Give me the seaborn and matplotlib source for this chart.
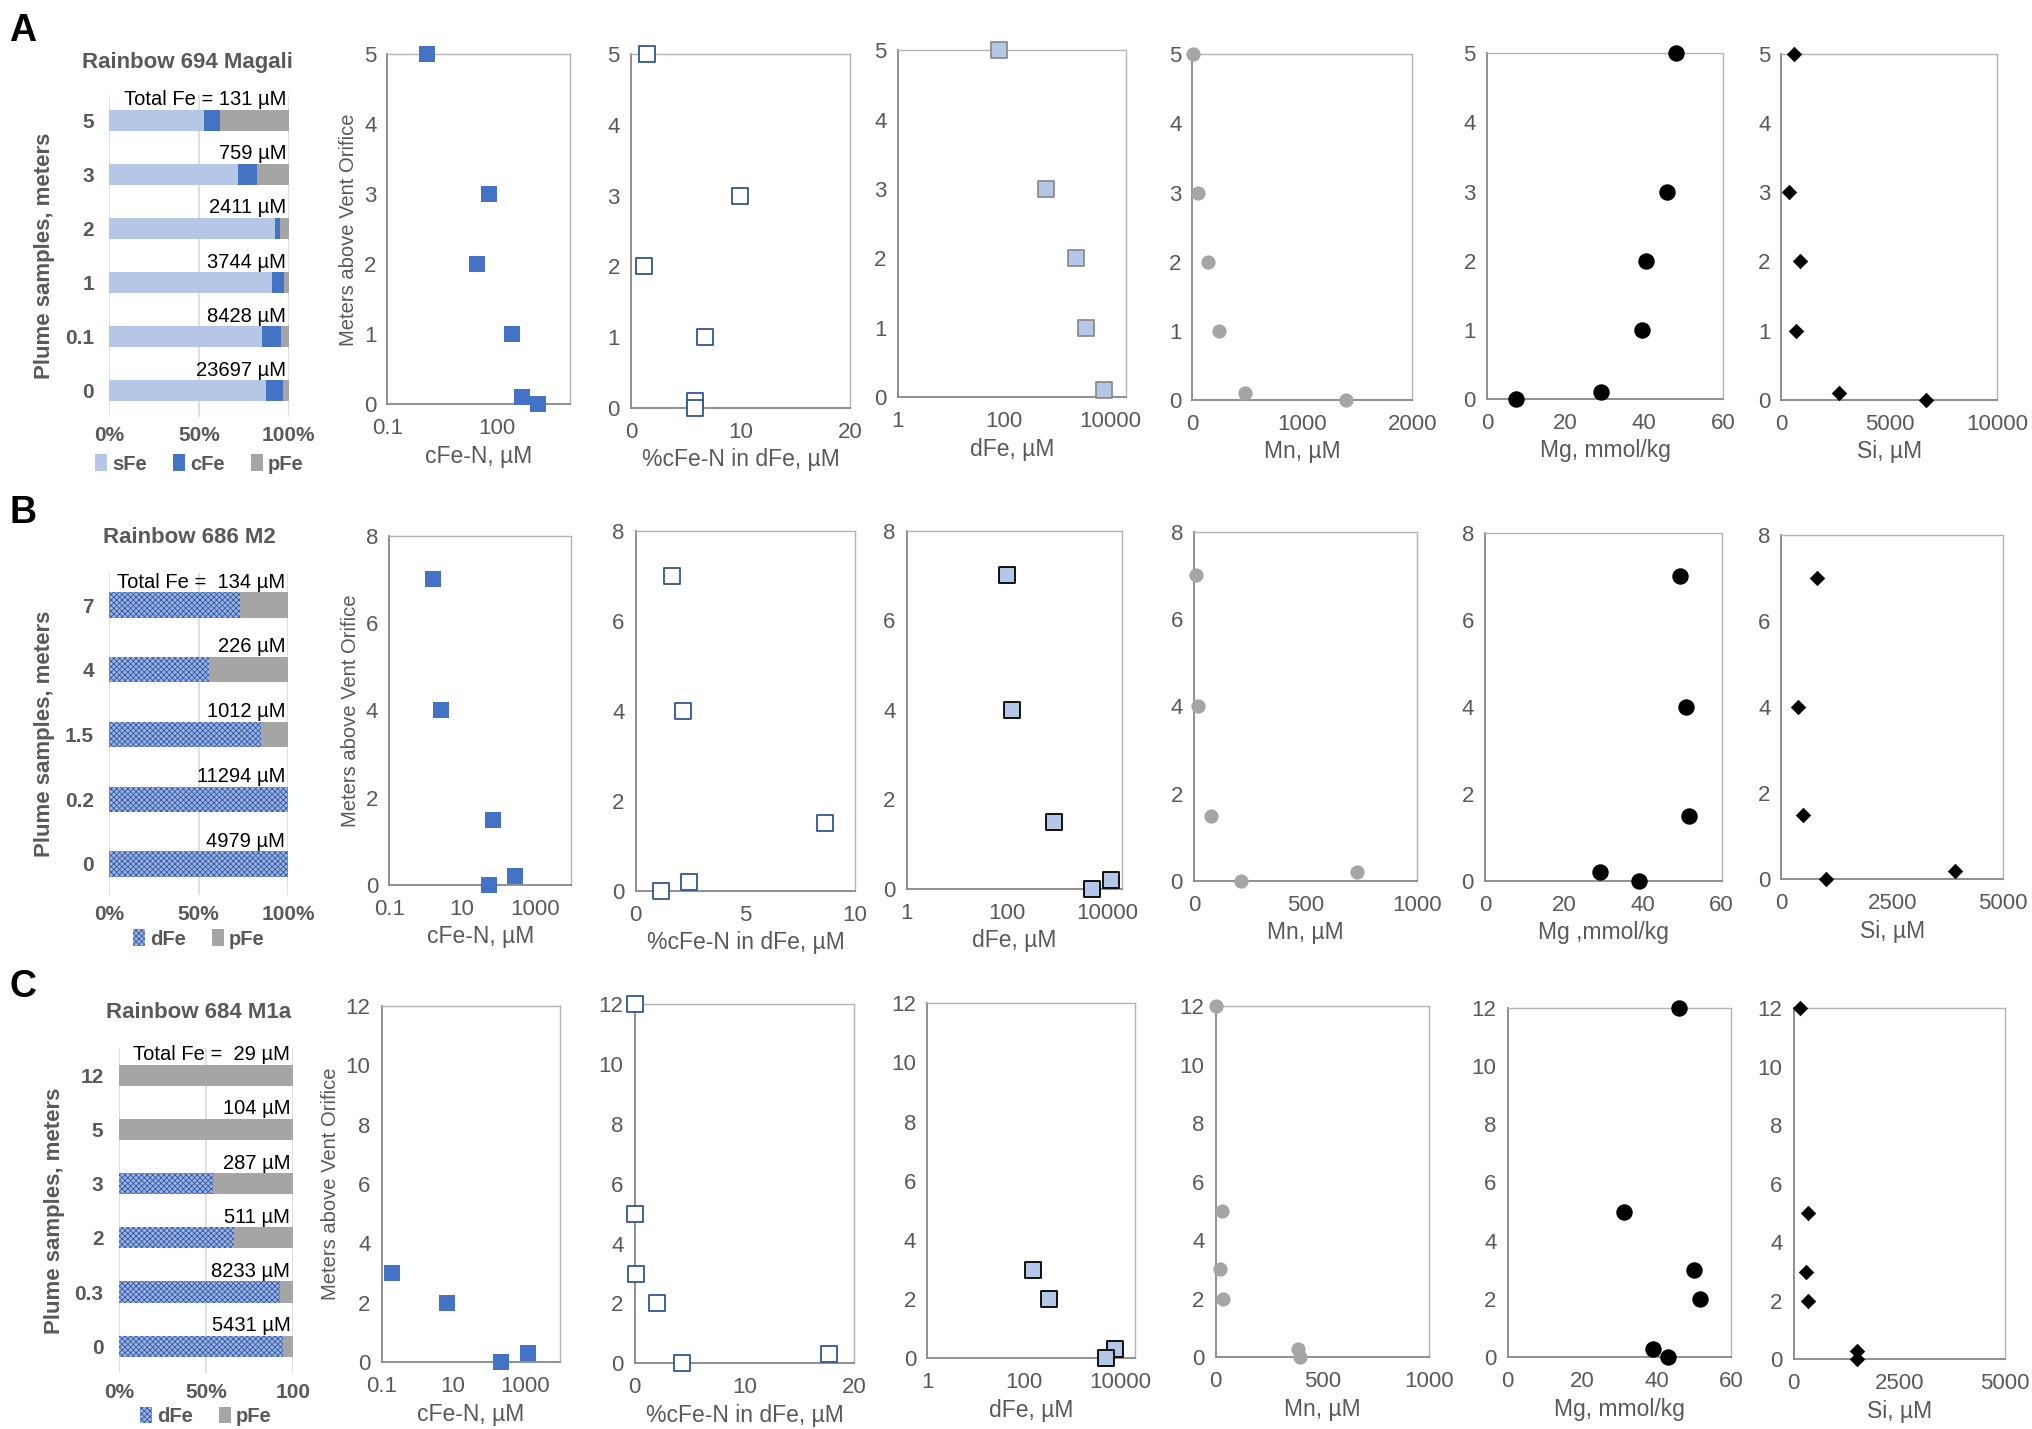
import matplotlib
matplotlib.use("Agg")
import matplotlib.pyplot as plt
import seaborn as sns
from matplotlib import font_manager
from matplotlib.font_manager import FontProperties
from matplotlib.patches import Patch
from matplotlib.ticker import NullLocator

# ---------------- data ----------------
# Row A - Rainbow 694 Magali
A_cats = ["5", "3", "2", "1", "0.1", "0"]
A_sfe = [0.527, 0.716, 0.923, 0.905, 0.851, 0.873]
A_cfe = [0.090, 0.107, 0.027, 0.070, 0.107, 0.092]
A_pfe = [0.383, 0.177, 0.050, 0.025, 0.042, 0.035]
A_totals = ["Total Fe = 131 µM", "759 µM", "2411 µM", "3744 µM", "8428 µM", "23697 µM"]
A_depth = [5, 3, 2, 1, 0.1, 0]
A_cfen = [1.23, 62, 27.5, 253, 470, 1300]
A_pct = [1.5, 10.0, 1.2, 6.8, 5.8, 5.8]
A_dfe_depth = [5, 3, 2, 1, 0.1]
A_dfe = [81, 617, 2240, 3600, 7800]
A_mn = [9, 47, 138, 237, 474, 1396]
A_mg = [48.1, 45.7, 40.4, 39.3, 29.1, 7.4]
A_si = [584, 325, 844, 671, 2640, 6690]

# Row B - Rainbow 686 M2
B_cats = ["7", "4", "1.5", "0.2", "0"]
B_dfe_frac = [0.733, 0.555, 0.850, 1.0, 1.0]
B_pfe_frac = [0.267, 0.445, 0.150, 0.0, 0.0]
B_totals = ["Total Fe =  134 µM", "226 µM", "1012 µM", "11294 µM", "4979 µM"]
B_depth = [7, 4, 1.5, 0.2, 0]
B_cfen = [1.6, 2.6, 72, 281, 56]
B_pct = [1.66, 2.15, 8.65, 2.45, 1.14]
B_dfe = [100, 126, 870, 12000, 5100]
B_mn = [11, 17, 77, 730, 212]
B_mg = [49.5, 50.9, 51.6, 29.1, 39.1]
B_si = [802, 380, 485, 3924, 1002]

# Row C - Rainbow 684 M1a
C_cats = ["12", "5", "3", "2", "0.3", "0"]
C_dfe_frac = [0.0, 0.0, 0.541, 0.659, 0.928, 0.944]
C_pfe_frac = [1.0, 1.0, 0.459, 0.341, 0.072, 0.056]
C_totals = ["Total Fe =  29 µM", "104 µM", "287 µM", "511 µM", "8233 µM", "5431 µM"]
C_depth = [12, 5, 3, 2, 0.3, 0]
C_cfen_depth = [3, 2, 0, 0.3]
C_cfen = [0.19, 6.8, 214, 1260]
C_pct_depth = [12, 5, 3, 2, 0, 0.3]
C_pct = [0.0, 0.0, 0.13, 2.06, 4.34, 17.7]
C_dfe_depth = [3, 2, 0.3, 0]
C_dfe = [155, 327, 7640, 5100]
C_mn = [0, 31, 22, 36, 388, 395]
C_mg = [46.0, 31.3, 49.9, 51.6, 39.0, 42.9]
C_si = [155, 343, 299, 343, 1504, 1504]

# ---------------- styling ----------------
sns.set_theme(style="white")


def pick_font(names, default="DejaVu Sans"):
    for n in names:
        try:
            font_manager.findfont(FontProperties(family=n), fallback_to_default=False)
            return n
        except Exception:
            pass
    return default


NARROW = pick_font(["Liberation Sans Narrow", "Arial Narrow", "Liberation Sans"])
SANS = pick_font(["Liberation Sans", "Arial"])
plt.rcParams["font.family"] = [NARROW, "DejaVu Sans"]
plt.rcParams["hatch.linewidth"] = 0.6

GREY_TXT = "#595959"
S_BLUE = "#b4c7e7"
C_BLUE = "#4472c4"
P_GREY = "#a5a5a5"
D_FACE = "#9db4e0"
D_HATCH = "#2e56a6"

W, H = 2033, 1429


def rect(l, t, r, b):
    return [l / W, 1 - b / H, (r - l) / W, (b - t) / H]


fig = plt.figure(figsize=(W / 100, H / 100), dpi=100)
fig.patch.set_facecolor("white")


def style_bar_hatch(patches):
    for p in patches:
        p.set_hatch("xxxxxx")
        p.set_edgecolor(D_HATCH)
        p.set_linewidth(0)
        if hasattr(p, "set_hatchcolor"):
            p.set_hatchcolor(D_HATCH)


def bar_panel(ax, cats, layers, totals, ylim, xticklabels, legend_items, legend_y):
    """Stacked 100% bars built from cumulative seaborn bar layers (back to front)."""
    for vals, color, hatched in layers:
        n0 = len(ax.patches)
        sns.barplot(x=vals, y=cats, order=cats, orient="h", color=color,
                    width=0.39, saturation=1, errorbar=None, linewidth=0, ax=ax)
        if hatched:
            style_bar_hatch(ax.patches[n0:])
    ax.set_xlim(0, 1)
    ax.set_ylim(*ylim)
    ax.set_xticks([0, 0.5, 1])
    ax.set_xticklabels(xticklabels)
    ax.xaxis.grid(True, color="#d9d9d9", linewidth=1.2)
    ax.yaxis.grid(False)
    ax.set_axisbelow(True)
    for s in ax.spines.values():
        s.set_visible(False)
    ax.tick_params(length=0, labelsize=15, labelcolor=GREY_TXT)
    ax.tick_params(axis="x", pad=7)
    ax.tick_params(axis="y", pad=11)
    for lab in ax.get_xticklabels() + ax.get_yticklabels():
        lab.set_fontweight("bold")
        lab.set_family(SANS)
    ax.set_xlabel("")
    ax.set_ylabel("Plume samples, meters", fontsize=16, fontweight="bold",
                  color=GREY_TXT, family=SANS, labelpad=7)
    for i, t in enumerate(totals):
        ax.text(0.985, i - 0.205, t, ha="right", va="bottom", fontsize=14.5,
                color="black", family=NARROW)
    handles = []
    for name, color, hatched in legend_items:
        h = Patch(facecolor=color, edgecolor=D_HATCH if hatched else color,
                  hatch="xxxxxx" if hatched else None, linewidth=0)
        handles.append(h)
    leg = ax.legend(handles, [n for n, _, _ in legend_items], loc="center",
                    bbox_to_anchor=(0.5, legend_y), ncol=len(handles), frameon=False,
                    handlelength=0.6, handleheight=0.9, handletextpad=0.25,
                    columnspacing=1.3, borderaxespad=0, borderpad=0,
                    prop=FontProperties(family=SANS, weight="bold", size=14.5))
    for t in leg.get_texts():
        t.set_color(GREY_TXT)


MARKERS = {
    "cfen": dict(marker="s", s=125, color=C_BLUE, edgecolor=C_BLUE, linewidth=0),
    "pct": dict(marker="s", s=130, color="white", edgecolor="#2f5597", linewidth=1.3),
    "dfe": dict(marker="s", s=130, color=S_BLUE, linewidth=1.3),
    "mn": dict(marker="o", s=105, color=P_GREY, edgecolor=P_GREY, linewidth=0),
    "mg": dict(marker="o", s=140, color="black", edgecolor="black", linewidth=0),
    "si": dict(marker="D", s=62, color="black", edgecolor="black", linewidth=0),
}


def scatter_panel(ax, x, y, kind, xlabel, xlim, xticks, xticklabels, ymax, ystep,
                  log=False, edge=None, ylabel=None):
    kw = dict(MARKERS[kind])
    if edge is not None:
        kw["edgecolor"] = edge
    if log:
        ax.set_xscale("log")
    sns.scatterplot(x=x, y=y, ax=ax, legend=False, clip_on=False, zorder=3, **kw)
    ax.set_xlim(*xlim)
    ax.set_ylim(0, ymax)
    ax.xaxis.set_minor_locator(NullLocator())
    ax.set_xticks(xticks)
    ax.set_xticklabels(xticklabels)
    yt = list(range(0, ymax + 1, ystep))
    ax.set_yticks(yt)
    ax.set_yticklabels([str(v) for v in yt])
    ax.grid(False)
    for side in ["top", "right"]:
        ax.spines[side].set_color("#b3b3b3")
        ax.spines[side].set_linewidth(1.0)
    for side in ["left", "bottom"]:
        ax.spines[side].set_color("#878787")
        ax.spines[side].set_linewidth(1.3)
    ax.tick_params(length=0, labelsize=16, labelcolor=GREY_TXT)
    ax.tick_params(axis="x", pad=10)
    ax.tick_params(axis="y", pad=8)
    ax.set_xlabel(xlabel, fontsize=16.5, color=GREY_TXT, labelpad=4)
    if ylabel:
        ax.set_ylabel(ylabel, fontsize=14.5, color=GREY_TXT, family=SANS, labelpad=4)
    else:
        ax.set_ylabel("")


# ---------------- panel boxes (pixels: left, top, right, bottom) ----------------
BOX_A = [(109.4, 95, 288.8, 416.7), (387.5, 54.3, 570, 404.3), (631, 54.3, 850, 407.7),
         (897.6, 50.3, 1126, 397.3), (1192.5, 54.3, 1412.2, 400), (1487, 53.3, 1723, 399),
         (1781.5, 54, 1997.5, 399.7)]
BOX_B = [(109.4, 573.3, 288, 895), (389.3, 535.7, 571.4, 885), (635.7, 530.7, 855.1, 890.7),
         (906.6, 530.7, 1122.2, 889), (1194, 531.7, 1416.9, 881), (1485, 532.7, 1721.7, 881),
         (1781.5, 535, 2003, 879.3)]
BOX_C = [(118.8, 1048.3, 292.9, 1373.3), (381.7, 1005.7, 560.3, 1362.3),
         (634.7, 1004.3, 854.2, 1363.3), (927.3, 1003.3, 1135, 1358.3),
         (1215.7, 1006, 1428.6, 1357.3), (1507.6, 1007.7, 1731.5, 1357.3),
         (1793.7, 1008.3, 2005, 1359.3)]

YLAB = "Meters above Vent Orifice"

# ---------------- row A ----------------
axs = [fig.add_axes(rect(*b)) for b in BOX_A]
cum_s = A_sfe
cum_sc = [s + c for s, c in zip(A_sfe, A_cfe)]
cum_all = [s + c + p for s, c, p in zip(A_sfe, A_cfe, A_pfe)]
bar_panel(axs[0], A_cats, [(cum_all, P_GREY, False), (cum_sc, C_BLUE, False), (cum_s, S_BLUE, False)],
          A_totals, (5.48, -0.47), ["0%", "50%", "100%"],
          [("sFe", S_BLUE, False), ("cFe", C_BLUE, False), ("pFe", P_GREY, False)], -0.147)
scatter_panel(axs[1], A_cfen, A_depth, "cfen", "cFe-N, µM", (0.1, 1e4), [0.1, 100], ["0.1", "100"],
              5, 1, log=True, ylabel=YLAB)
scatter_panel(axs[2], A_pct, A_depth, "pct", "%cFe-N in dFe, µM", (0, 20), [0, 10, 20], ["0", "10", "20"], 5, 1)
scatter_panel(axs[3], A_dfe, A_dfe_depth, "dfe", "dFe, µM", (1, 2e4), [1, 100, 10000], ["1", "100", "10000"],
              5, 1, log=True, edge="#8c8c8c")
scatter_panel(axs[4], A_mn, A_depth, "mn", "Mn, µM", (0, 2000), [0, 1000, 2000], ["0", "1000", "2000"], 5, 1)
scatter_panel(axs[5], A_mg, A_depth, "mg", "Mg, mmol/kg", (0, 60), [0, 20, 40, 60], ["0", "20", "40", "60"], 5, 1)
scatter_panel(axs[6], A_si, A_depth, "si", "Si, µM", (0, 10000), [0, 5000, 10000], ["0", "5000", "10000"], 5, 1)

# ---------------- row B ----------------
axs = [fig.add_axes(rect(*b)) for b in BOX_B]
cum_d = B_dfe_frac
cum_all = [d + p for d, p in zip(B_dfe_frac, B_pfe_frac)]
bar_panel(axs[0], B_cats, [(cum_all, P_GREY, False), (cum_d, D_FACE, True)],
          B_totals, (4.48, -0.49), ["0%", "50%", "100%"],
          [("dFe", D_FACE, True), ("pFe", P_GREY, False)], -0.137)
scatter_panel(axs[1], B_cfen, B_depth, "cfen", "cFe-N, µM", (0.1, 1e4), [0.1, 10, 1000], ["0.1", "10", "1000"],
              8, 2, log=True, ylabel=YLAB)
scatter_panel(axs[2], B_pct, B_depth, "pct", "%cFe-N in dFe, µM", (0, 10), [0, 5, 10], ["0", "5", "10"], 8, 2)
scatter_panel(axs[3], B_dfe, B_depth, "dfe", "dFe, µM", (1, 2e4), [1, 100, 10000], ["1", "100", "10000"],
              8, 2, log=True, edge="black")
scatter_panel(axs[4], B_mn, B_depth, "mn", "Mn, µM", (0, 1000), [0, 500, 1000], ["0", "500", "1000"], 8, 2)
scatter_panel(axs[5], B_mg, B_depth, "mg", "Mg ,mmol/kg", (0, 60), [0, 20, 40, 60], ["0", "20", "40", "60"], 8, 2)
scatter_panel(axs[6], B_si, B_depth, "si", "Si, µM", (0, 5000), [0, 2500, 5000], ["0", "2500", "5000"], 8, 2)

# ---------------- row C ----------------
axs = [fig.add_axes(rect(*b)) for b in BOX_C]
cum_d = C_dfe_frac
cum_all = [d + p for d, p in zip(C_dfe_frac, C_pfe_frac)]
bar_panel(axs[0], C_cats, [(cum_all, P_GREY, False), (cum_d, D_FACE, True)],
          C_totals, (5.5, -0.5), ["0%", "50%", "100"],
          [("dFe", D_FACE, True), ("pFe", P_GREY, False)], -0.132)
scatter_panel(axs[1], C_cfen, C_cfen_depth, "cfen", "cFe-N, µM", (0.1, 1e4), [0.1, 10, 1000],
              ["0.1", "10", "1000"], 12, 2, log=True, ylabel=YLAB)
scatter_panel(axs[2], C_pct, C_pct_depth, "pct", "%cFe-N in dFe, µM", (0, 20), [0, 10, 20], ["0", "10", "20"], 12, 2)
scatter_panel(axs[3], C_dfe, C_dfe_depth, "dfe", "dFe, µM", (1, 2e4), [1, 100, 10000], ["1", "100", "10000"],
              12, 2, log=True, edge="black")
scatter_panel(axs[4], C_mn, C_depth, "mn", "Mn, µM", (0, 1000), [0, 500, 1000], ["0", "500", "1000"], 12, 2)
scatter_panel(axs[5], C_mg, C_depth, "mg", "Mg, mmol/kg", (0, 60), [0, 20, 40, 60], ["0", "20", "40", "60"], 12, 2)
scatter_panel(axs[6], C_si, C_depth, "si", "Si, µM", (0, 5000), [0, 2500, 5000], ["0", "2500", "5000"], 12, 2)

# ---------------- letters and titles ----------------
for letter, (x, y) in zip(["A", "B", "C"], [(23, 30.7), (23, 513.3), (23, 986.7)]):
    fig.text(x / W, 1 - y / H, letter, ha="center", va="center", fontsize=27,
             fontweight="bold", family=SANS, color="black")
for title, (x, y) in zip(["Rainbow 694 Magali", "Rainbow 686 M2", "Rainbow 684 M1a"],
                         [(187.5, 62.3), (189.7, 537.7), (198.7, 1012.3)]):
    fig.text(x / W, 1 - y / H, title, ha="center", va="center", fontsize=16,
             fontweight="bold", family=SANS, color=GREY_TXT)

fig.savefig("out.png", dpi=100, facecolor="white")
